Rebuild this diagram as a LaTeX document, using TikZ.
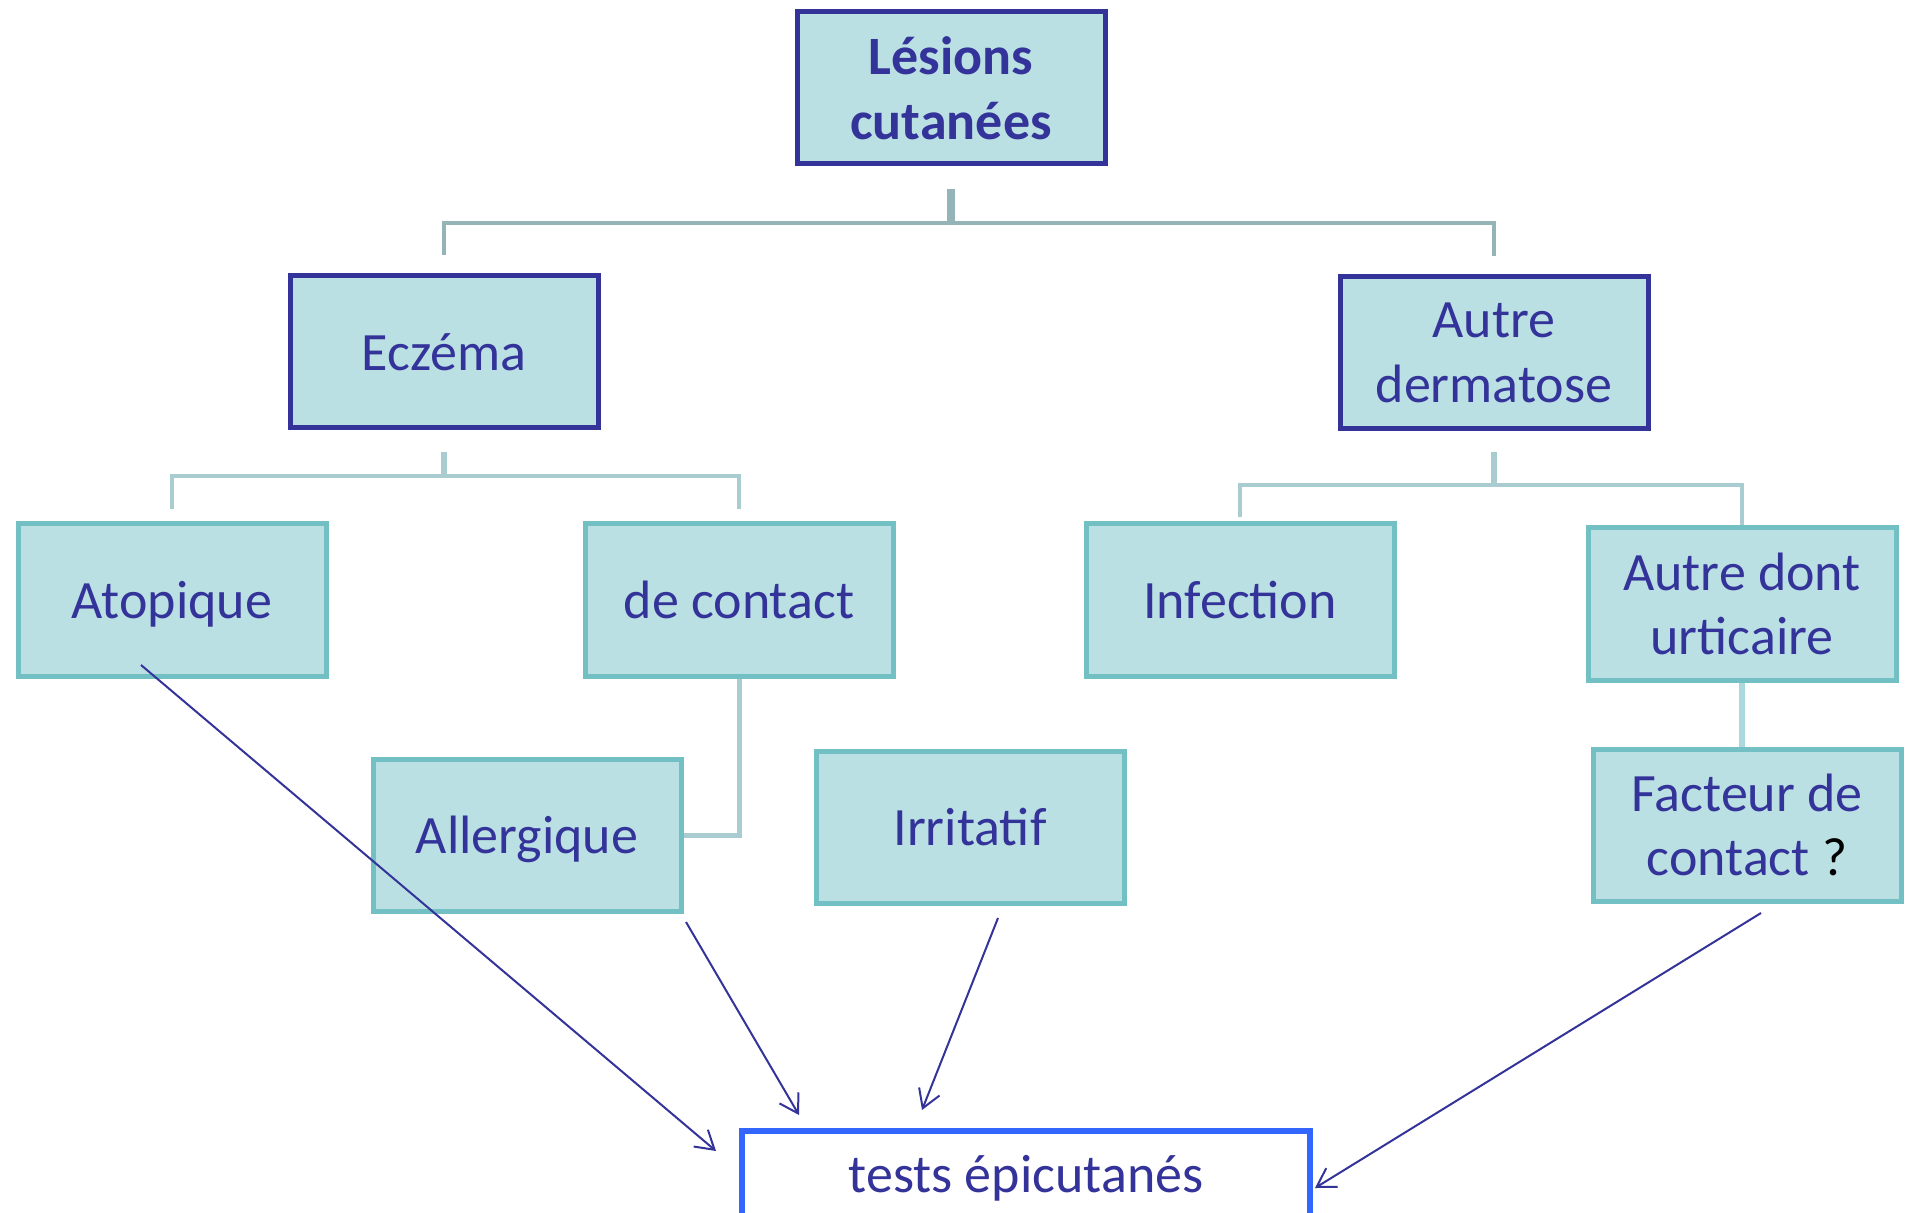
\documentclass[tikz,border=0pt]{standalone}
\usepackage{fontspec}
\setmainfont{Carlito}
\usetikzlibrary{positioning,arrows.meta}

\definecolor{ink}{HTML}{333399}
\definecolor{boxfill}{HTML}{BAE0E3}
\definecolor{boxline}{HTML}{72BFC4}
\definecolor{trunkline}{HTML}{95B4B7}
\definecolor{branchline}{HTML}{A8CCCF}
\definecolor{testline}{HTML}{3366FF}

\begin{document}
\begin{tikzpicture}[x=0.5pt, y=-0.5pt,
  every node/.style={font=\fontsize{27}{32.4}\selectfont, text=ink, align=center},
  box/.style={draw=boxline, fill=boxfill, line width=2.5pt,
    minimum width=154pt, minimum height=76pt, inner sep=0pt},
  headbox/.style={box, draw=ink},
  oneline/.style={text height=25pt, text depth=6.75pt},
  trunk/.style={draw=trunkline, line width=2pt},
  branch/.style={draw=branchline, line width=2pt},
  pointer/.style={draw=ink, line width=1pt,
    -{Straight Barb[length=9pt,width=11pt,line width=1pt]}}]
  \useasboundingbox (0,0) rectangle (1910,1213);

  % boxes
  \node[headbox, font=\bfseries\fontsize{27}{32.4}\selectfont] (lesions) at (951,88)
    {Lésions\\cutanées};
  \node[headbox, oneline] (eczema) at (444,352) {Eczéma};
  \node[headbox] (autre) at (1494,353) {Autre\\dermatose};
  \node[box, oneline] (atopique) at (172,600) {Atopique};
  \node[box, oneline] (contact) at (739,600) {de contact};
  \node[box, oneline] (infection) at (1240,600) {Infection};
  \node[box] (urticaire) at (1742,604) {Autre dont\\urticaire};
  \node[box, oneline] (allergique) at (527,835) {Allergique};
  \node[box, oneline] (irritatif) at (970,827) {Irritatif};
  \node[box] (facteur) at (1747,825) {Facteur de\\contact \textcolor{black}{?}};
  \node[draw=testline, fill=white, line width=3pt, minimum width=284pt,
    minimum height=43pt, inner sep=0pt, oneline] (tests) at (1026,1174) {tests épicutanés};

  % tree links
  \coordinate (hubTop) at (951,223);
  \coordinate (hubEczema) at (444,476);
  \coordinate (hubAutre) at (1494,485);
  \draw[trunk, line width=4pt] (lesions.south) ++(0,23) -- (hubTop);
  \draw[trunk] ([yshift=9pt]eczema.north) |- (hubTop) -| ([yshift=9pt]autre.north);
  \draw[branch, line width=3pt] (eczema.south) ++(0,22) -- (hubEczema);
  \draw[branch] ([yshift=6pt]atopique.north) |- (hubEczema) -| ([yshift=6pt]contact.north);
  \draw[branch, line width=3pt] (autre.south) ++(0,21) -- (hubAutre);
  \draw[branch] ([yshift=2pt]infection.north) |- (hubAutre) -| (urticaire.north);
  \draw[branch, line width=2.5pt] (contact.south) |- (allergique.east);
  \draw[branch, draw=boxfill!80!boxline, line width=3pt] (urticaire.south) -- (urticaire.south |- facteur.north);

  % arrows to the patch tests
  \coordinate (fromAtopique) at (141,665);
  \coordinate (fromAllergique) at (686,922);
  \coordinate (fromIrritatif) at (998,918);
  \coordinate (fromFacteur) at (1761,913);
  \coordinate (intoTestsA) at (716,1151);
  \coordinate (intoTestsB) at (799,1115);
  \coordinate (intoTestsC) at (922,1110);
  \coordinate (intoTestsD) at (1315,1188);
  \draw[pointer] (fromAtopique) -- (intoTestsA);
  \draw[pointer] (fromAllergique) -- (intoTestsB);
  \draw[pointer] (fromIrritatif) -- (intoTestsC);
  \draw[pointer] (fromFacteur) -- (intoTestsD);
\end{tikzpicture}
\end{document}
